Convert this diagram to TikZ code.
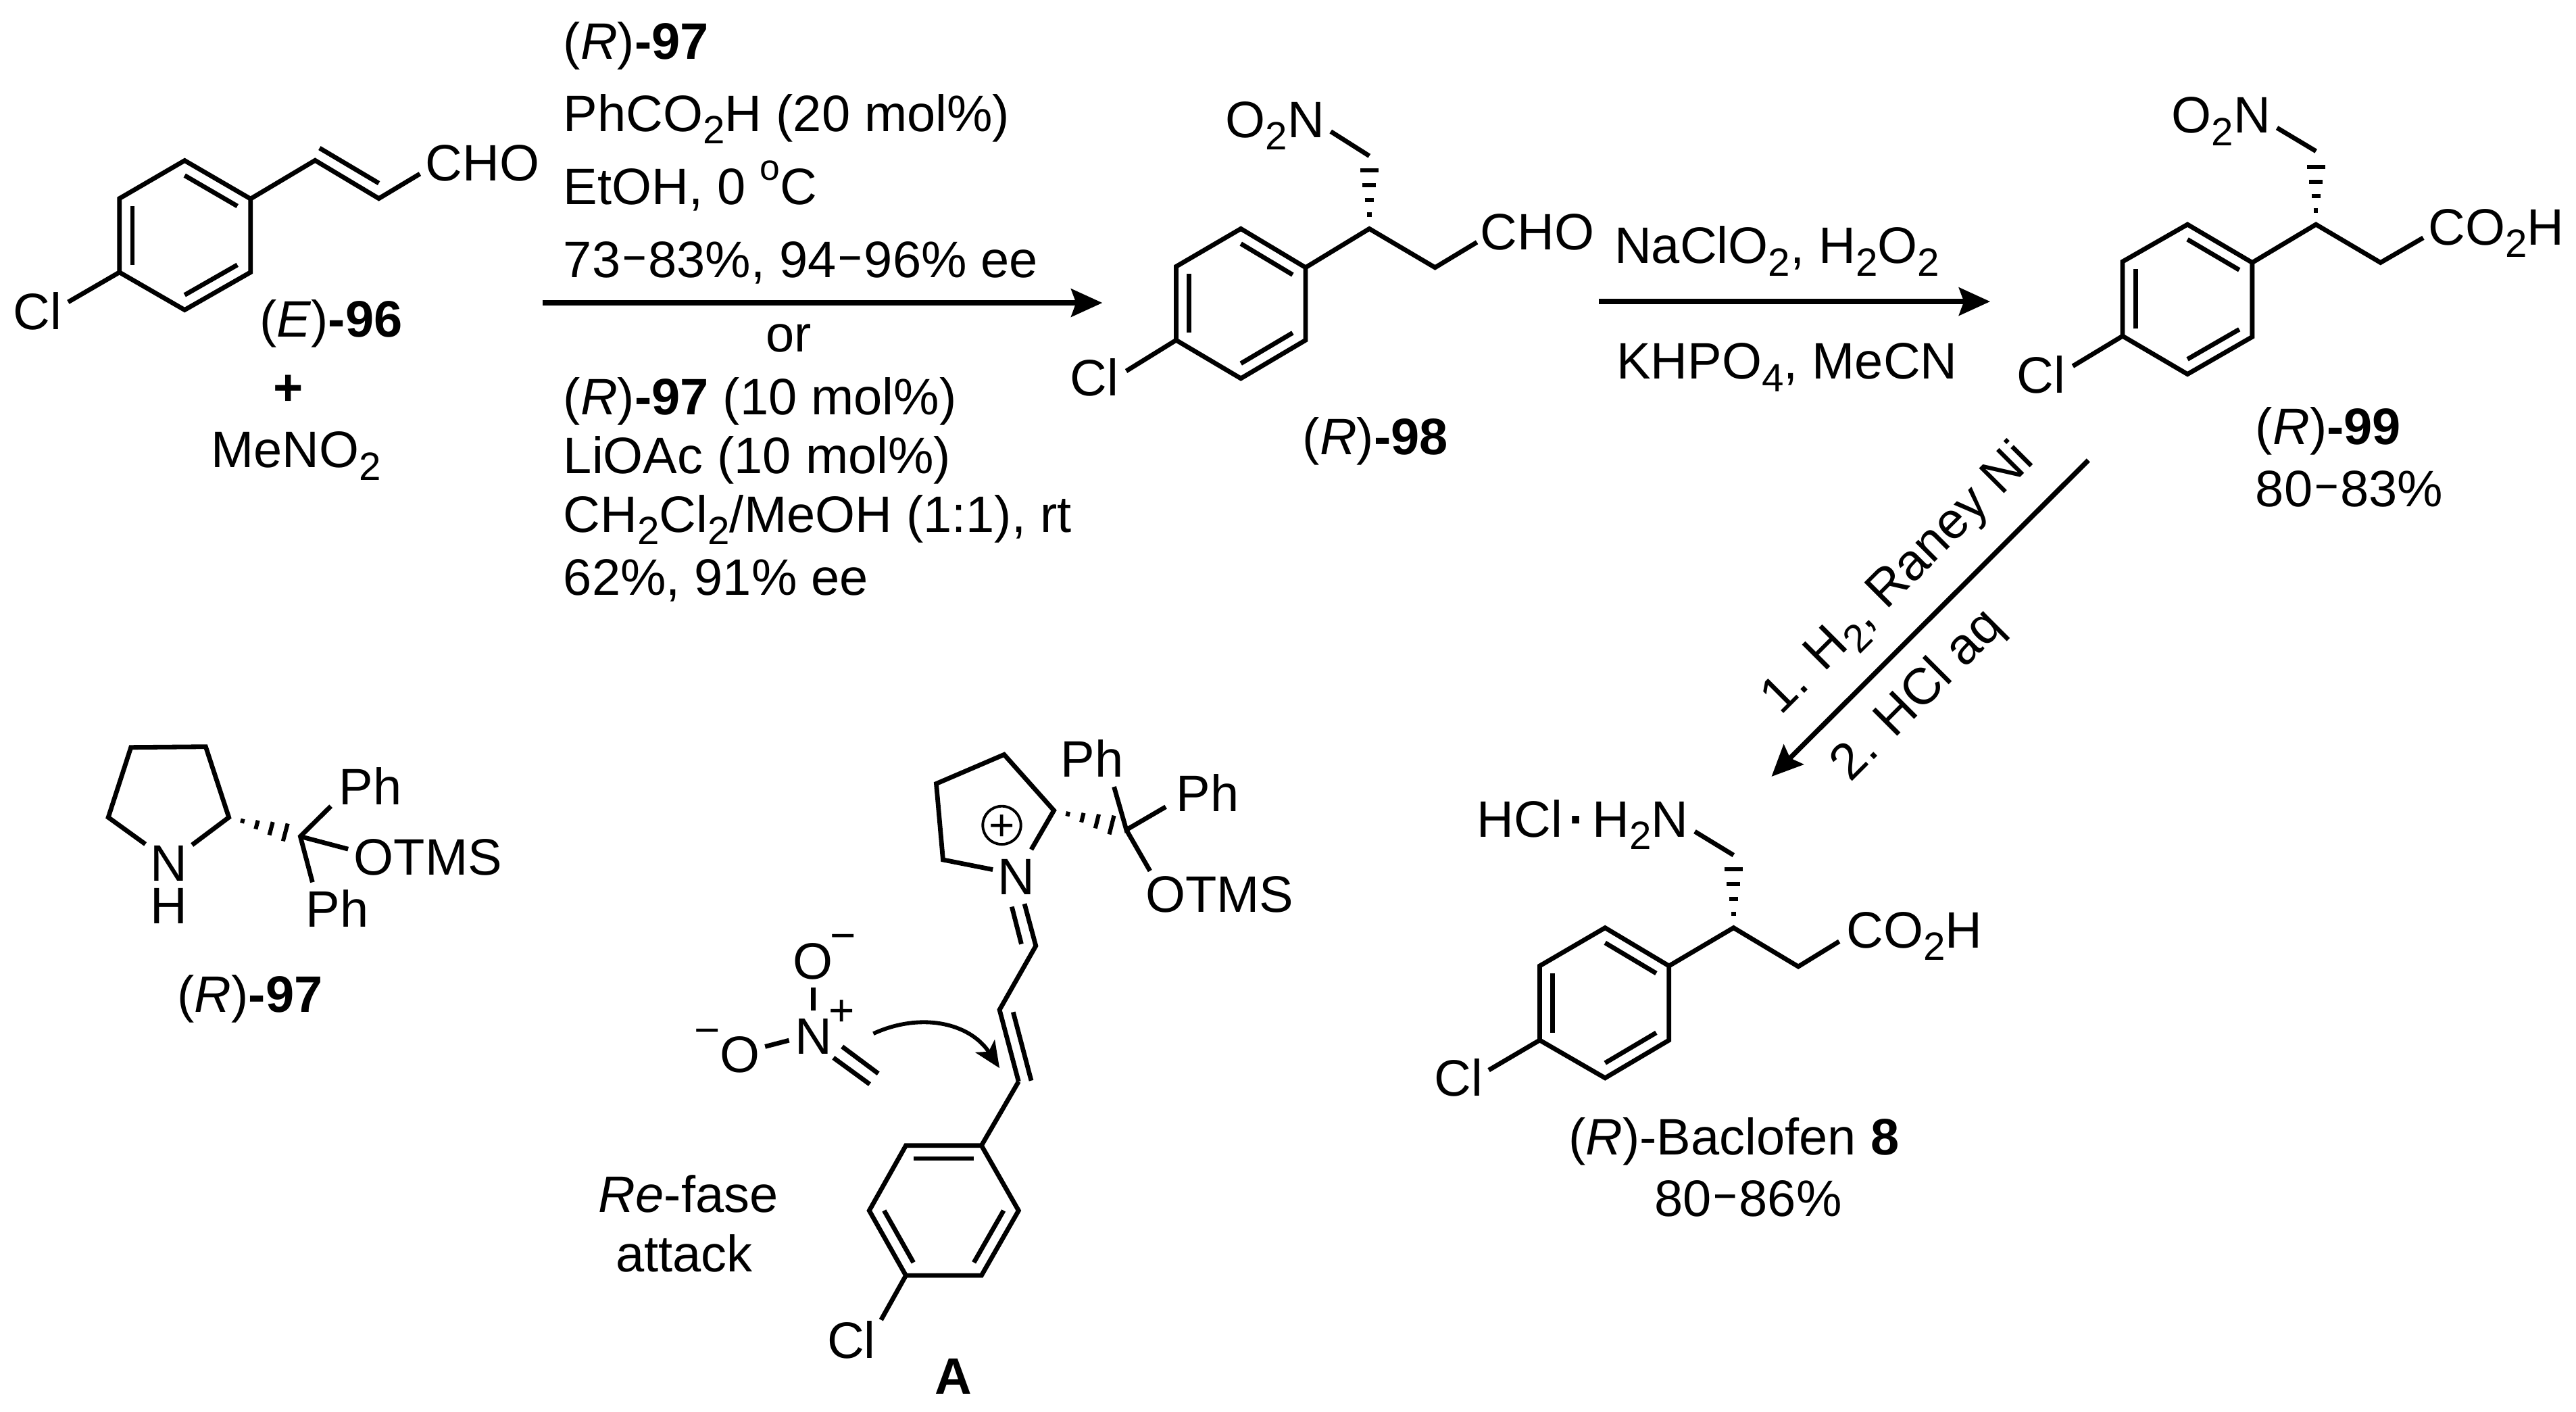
\documentclass[tikz,border=0pt]{standalone}
\usepackage{fontspec}
\usepackage{graphicx}
\setmainfont{Liberation Sans}
\usetikzlibrary{calc,arrows.meta}
\newcommand\sbs[1]{\raisebox{-.24em}{\fontsize{12}{12}\selectfont #1}}
\newcommand\spr[1]{\raisebox{.48em}{\fontsize{11}{12}\selectfont #1}}
\newcommand\dsh{\kern1.2pt\raisebox{.13em}{\scalebox{.7}[1]{–}}\kern1.2pt}
\newcommand\bzring[7]{%
  \coordinate (#1a) at (#2);\coordinate (#1b) at (#3);\coordinate (#1c) at (#4);
  \coordinate (#1d) at (#5);\coordinate (#1e) at (#6);\coordinate (#1f) at (#7);
  \coordinate (#1m) at ($(#1a)!.5!(#1d)$);
  \draw[bond] (#1a)--(#1b)--(#1c)--(#1d)--(#1e)--(#1f)--cycle;
  \draw[bond] ($(#1a)!.2!(#1m)$)--($(#1b)!.2!(#1m)$);
  \draw[bond] ($(#1c)!.2!(#1m)$)--($(#1d)!.2!(#1m)$);
  \draw[bond] ($(#1e)!.2!(#1m)$)--($(#1f)!.2!(#1m)$);}
\newcommand\hashb[3]{%
  \foreach \f in {.23,.47,.71,.95}{%
    \pgfmathsetmacro\hw{\f*#3}
    \draw[hashline] ($(#1)!\f!(#2)!\hw pt!90:(#2)$)--($(#1)!\f!(#2)!-\hw pt!90:(#2)$);}}
\tikzset{
  bond/.style={line width=1.4pt,line join=miter,line cap=butt},
  hashline/.style={line width=1.25pt},
  rxn/.style={line width=1.5pt,-{Stealth[length=9.5pt,width=8.5pt,inset=1.5pt]}},
  lab/.style={inner sep=0pt,outer sep=0pt,anchor=base west,font=\fontsize{15.6}{18}\selectfont},
  labc/.style={lab,anchor=base},
  chg/.style={inner sep=0pt,outer sep=0pt,anchor=base,font=\fontsize{13.5}{16}\selectfont},
}
\begin{document}
\begin{tikzpicture}[x=.5pt,y=-.5pt]
\useasboundingbox (0,0) rectangle (1568,859.27);
\fill[white] (0,0) rectangle (1568,859.27);

%% ---------- (E)-96
\bzring{s}{112.4,97.7}{152.5,121}{152.5,165.7}{112.4,188.6}{72.7,165.7}{72.7,120.8}
\coordinate (s1) at (191.8,97.6);\coordinate (s2) at (230.6,120.8);\coordinate (s3) at (255.6,105.8);
\coordinate (s1i) at (194.5,90.1);\coordinate (s2i) at (230.6,111.5);\coordinate (sCl) at (41.5,183.8);
\draw[bond] (sb)--(s1)--(s2)--(s3);
\draw[bond] (s1i)--(s2i);
\draw[bond] (se)--(sCl);
\node[lab] (tsCl) at (8,200.5) {Cl};
\node[lab] (tsCHO) at (259,110) {CHO};
\node[lab] (t96) at (158,205) {(\textit{E})\textbf{-96}};
\node[labc] (tplus) at (175.5,246.4) {\textbf{+}};
\node[lab] (tMe) at (128.5,284.6) {MeNO\sbs{2}};

%% ---------- conditions
\node[lab] (c1) at (343,36) {(\textit{R})\textbf{-97}};
\node[lab] (c2) at (343,80) {PhCO\sbs{2}H (20 mol\%)};
\node[lab] (c3) at (343,124.5) {EtOH, 0 \spr{o}C};
\node[lab] (c4) at (343,169) {73\dsh83\%, 94\dsh96\% ee};
\node[labc] (c5) at (480,214) {or};
\node[lab] (c6) at (343,252.5) {(\textit{R})\textbf{-97} (10 mol\%)};
\node[lab] (c7) at (343,288) {LiOAc (10 mol\%)};
\node[lab] (c8) at (343,324) {CH\sbs{2}Cl\sbs{2}/MeOH (1:1), rt};
\node[lab] (c9) at (343,362) {62\%, 91\% ee};
\coordinate (ar1a) at (330.5,184.3);\coordinate (ar1b) at (671,184.3);
\draw[rxn] (ar1a)--(ar1b);

%% ---------- (R)-98
\bzring{p}{755.3,139.2}{794.7,162.8}{794.7,207}{755.3,230.3}{715.9,207}{715.9,162.2}
\coordinate (p1) at (833.5,139.2);\coordinate (p2) at (873.5,162.8);\coordinate (p3) at (899,147.4);
\coordinate (p4) at (833.5,101.8);\coordinate (p5) at (833.5,94.9);\coordinate (p6) at (810,80);
\coordinate (pCl) at (685.5,225.8);
\draw[bond] (pb)--(p1)--(p2)--(p3);
\draw[bond] (p5)--(p6);
\draw[bond] (pe)--(pCl);
\hashb{p1}{p4}{2.9}
\node[lab] (tpO) at (746,83.7) {O\sbs{2}N};
\node[lab] (tpCHO) at (901,152) {CHO};
\node[lab] (tpCl) at (651.5,241) {Cl};
\node[lab] (t98) at (793,276.5) {(\textit{R})\textbf{-98}};

%% ---------- step 2
\coordinate (ar2a) at (973,183.5);\coordinate (ar2b) at (1211.4,183.5);
\draw[rxn] (ar2a)--(ar2b);
\node[lab] (n1) at (982.7,160.4) {NaClO\sbs{2}, H\sbs{2}O\sbs{2}};
\node[lab] (n2) at (984,230.7) {KHPO\sbs{4}, MeCN};

%% ---------- (R)-99
\bzring{q}{1331.5,136.6}{1370.9,159.8}{1370.9,205}{1331.5,227.7}{1292,204.5}{1292,159.2}
\coordinate (q1) at (1409.7,136.6);\coordinate (q2) at (1449,159.8);\coordinate (q3) at (1475,144.7);
\coordinate (q4) at (1409.7,99.8);\coordinate (q5) at (1409.7,92);\coordinate (q6) at (1386,77.8);
\coordinate (qCl) at (1261.7,222.8);
\draw[bond] (qb)--(q1)--(q2)--(q3);
\draw[bond] (q5)--(q6);
\draw[bond] (qe)--(qCl);
\hashb{q1}{q4}{2.9}
\node[lab] (tqO) at (1322,81) {O\sbs{2}N};
\node[lab] (tqC) at (1478,149) {CO\sbs{2}H};
\node[lab] (tqCl) at (1227.5,239) {Cl};
\node[lab] (t99) at (1373,270.6) {(\textit{R})\textbf{-99}};
\node[lab] (y99) at (1373,308.4) {80\dsh83\%};

%% ---------- step 3
\coordinate (ar3a) at (1271.1,280.1);\coordinate (ar3b) at (1078.3,472.6);
\draw[rxn] (ar3a)--(ar3b);
\node[lab,rotate=45] (r1) at (1084,436) {1. H\sbs{2}, Raney Ni};
\node[lab,rotate=45] (r2) at (1126.6,476.4) {2. HCl aq};

%% ---------- Baclofen
\bzring{b}{977,564.6}{1015.9,587.8}{1015.9,633}{977,656}{937.2,633}{937.2,587.8}
\coordinate (b1) at (1055.2,564.6);\coordinate (b2) at (1094.6,588.2);\coordinate (b3) at (1119.5,572.9);
\coordinate (b4) at (1055.2,527);\coordinate (b5) at (1055.2,520.4);\coordinate (b6) at (1031.6,506);
\coordinate (bCl) at (906.2,651.2);
\draw[bond] (bb)--(b1)--(b2)--(b3);
\draw[bond] (b5)--(b6);
\draw[bond] (be)--(bCl);
\hashb{b1}{b4}{2.9}
\node[lab] (tbN) at (899,509.5) {HCl\kern2pt\textbf{·}\kern2pt H\sbs{2}N};
\node[lab] (tbC) at (1124,576.8) {CO\sbs{2}H};
\node[lab] (tbCl) at (873,667) {Cl};
\node[lab] (tbac) at (954.8,702.7) {(\textit{R})-Baclofen \textbf{8}};
\node[lab] (ybac) at (1007,740) {80\dsh86\%};

%% ---------- (R)-97
\coordinate (k1) at (139.3,497.4);\coordinate (k2) at (125.2,454.4);\coordinate (k3) at (79.7,454.8);
\coordinate (k4) at (65.9,497.4);\coordinate (k5) at (88.5,513.7);\coordinate (k6) at (116.9,514.2);
\coordinate (k7) at (182.8,509);\coordinate (k8) at (201.4,490.6);\coordinate (k9) at (211.9,516.7);
\coordinate (k10) at (190.2,536.9);\coordinate (k11) at (175.5,507);
\draw[bond] (k6)--(k1)--(k2)--(k3)--(k4)--(k5);
\draw[bond] (k8)--(k7)--(k10);
\draw[bond] (k7)--(k9);
\hashb{k1}{k11}{2.9}
\node[labc] (tkN) at (102.6,536) {N};
\node[labc] (tkH) at (102.6,562.2) {H};
\node[lab] (tkP1) at (206.3,489.5) {Ph};
\node[lab] (tkO) at (215.5,532.4) {OTMS};
\node[lab] (tkP2) at (186.1,564.2) {Ph};
\node[lab] (t97) at (108,616) {(\textit{R})\textbf{-97}};

%% ---------- A
\coordinate (a1) at (641.5,493.2);\coordinate (a1n) at (627.7,517);\coordinate (a2) at (611.2,459.2);
\coordinate (a3) at (569.9,476.9);\coordinate (a4) at (574,523.2);\coordinate (a4n) at (604.3,529.2);
\draw[bond] (a1n)--(a1)--(a2)--(a3)--(a4)--(a4n);
\node[labc] (taN) at (618.6,544.5) {N};
\coordinate (a5) at (623.6,550);\coordinate (a6) at (630.5,575.6);\coordinate (a5i) at (615.9,551.8);\coordinate (a6i) at (621.7,574.5);
\coordinate (a7) at (608.4,614.5);\coordinate (a8) at (620,658.2);\coordinate (a7i) at (616.7,615.9);\coordinate (a8i) at (627.7,657.6);
\draw[bond] (a5)--(a6)--(a7)--(a8);
\draw[bond] (a5i)--(a6i);
\draw[bond] (a7i)--(a8i);
\bzring{r}{551.4,697.1}{597.4,697.1}{620,736.7}{597.4,776.2}{551.4,776.2}{529.1,736.7}
\draw[bond] (a8)--(rb);
\coordinate (rCl) at (536.3,803.2);
\draw[bond] (re)--(rCl);
\node[lab] (trCl) at (503.5,826.6) {Cl};
\node[labc] (tA) at (580.4,848.2) {\textbf{A}};
\coordinate (a9) at (685.6,505);\coordinate (a10) at (678.1,478.8);\coordinate (a11) at (709.6,491);\coordinate (a12) at (700,530);\coordinate (a13) at (678.5,502.5);
\draw[bond] (a10)--(a9)--(a11);
\draw[bond] (a9)--(a12);
\hashb{a1}{a13}{3.1}
\node[lab] (taP1) at (645.6,472.8) {Ph};
\node[lab] (taP2) at (715.9,494) {Ph};
\node[lab] (taO) at (697.2,555.1) {OTMS};
\node[draw,circle,line width=.8pt,inner sep=0pt,minimum size=11.6pt] (aplus) at (609.8,502.2) {};
\node[chg] (taplus) at (609.8,511.4) {+};

%% nitronate
\node[labc] (tnO1) at (494.7,596) {O};
\node[labc] (tnN) at (495,641.5) {N};
\node[labc] (tnO2) at (450.6,652.5) {O};
\node[chg] (tnm1) at (513.4,578.5) {−};
\node[chg] (tnp) at (512.3,624.3) {+};
\node[chg] (tnm2) at (430.4,636.3) {−};
\coordinate (n1a) at (495,600.9);\coordinate (n1b) at (495,615.1);
\coordinate (n2a) at (465.7,636.9);\coordinate (n2b) at (480.3,633.1);
\coordinate (n3a) at (507.3,643.7);\coordinate (n3b) at (529.4,659.8);
\coordinate (n4a) at (512.6,636.9);\coordinate (n4b) at (534.6,653.3);
\draw[bond] (n1a)--(n1b);
\draw[bond] (n2a)--(n2b);
\draw[bond] (n3a)--(n3b);
\draw[bond] (n4a)--(n4b);
\coordinate (cva) at (531.6,629);\coordinate (cvb) at (608.4,650);
\draw[line width=1.2pt,-{Stealth[length=8pt,width=7pt,inset=2pt]}] (cva) .. controls (560,616) and (590,622) .. (cvb);
\node[labc] (tre) at (419,737.8) {\textit{Re}-fase};
\node[labc] (tat) at (416.5,774) {attack};
\end{tikzpicture}
\end{document}
